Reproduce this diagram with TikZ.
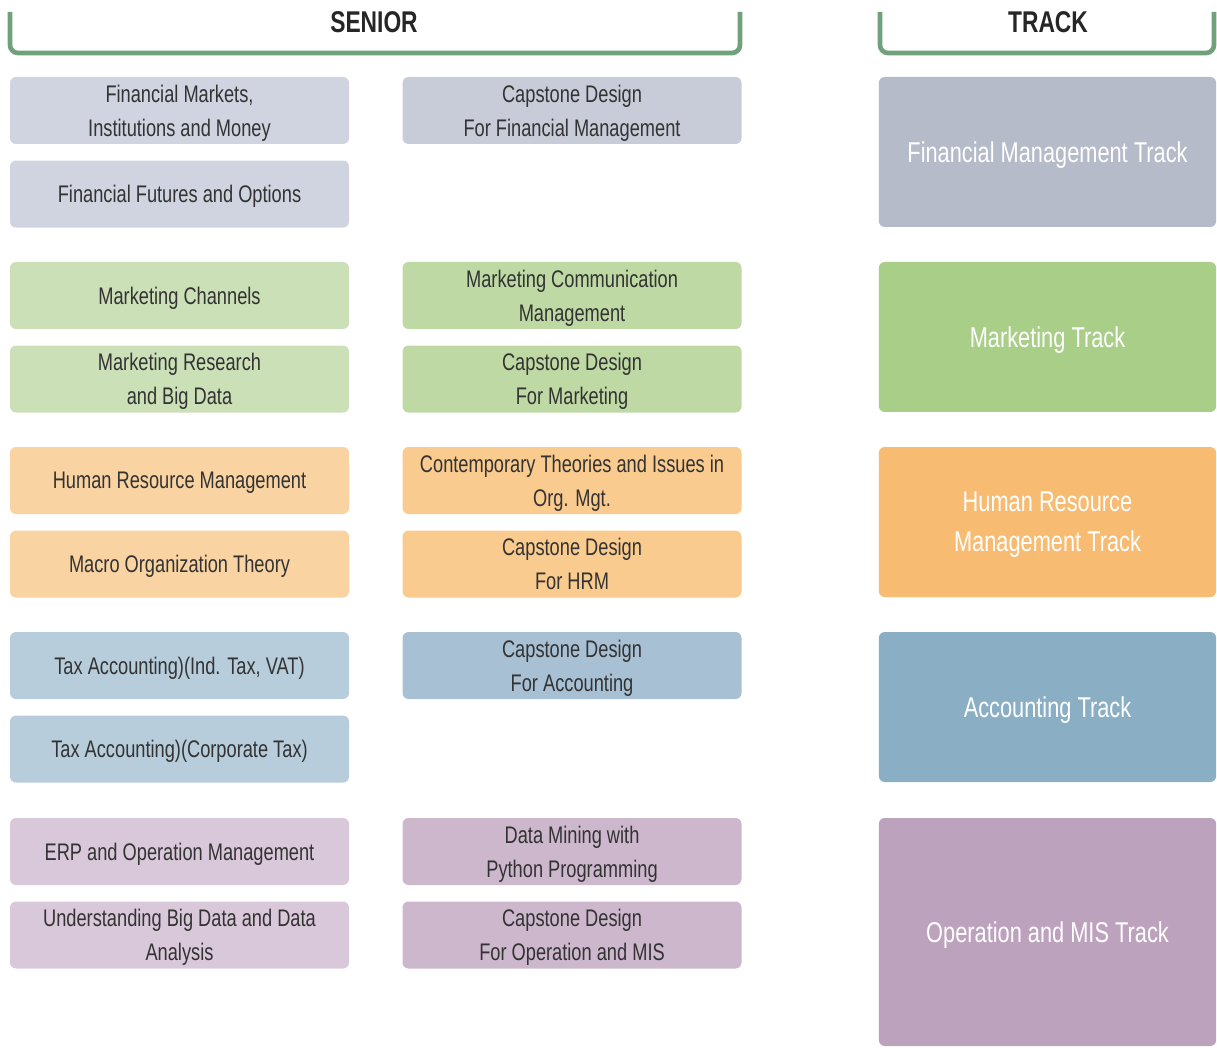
\documentclass[tikz,border=0pt]{standalone}
\usepackage{fontspec}
\setmainfont{Liberation Sans}[FakeStretch=0.76]
\usepackage{tikz}
\usetikzlibrary{positioning}
\usepackage{xcolor}

\definecolor{bracketgreen}{HTML}{6FA27A}
\definecolor{textgray}{HTML}{333333}
\definecolor{finA}{HTML}{D0D4E0}
\definecolor{finB}{HTML}{C8CCD8}
\definecolor{finT}{HTML}{B5BBC8}
\definecolor{mktA}{HTML}{CCE0B7}
\definecolor{mktB}{HTML}{BED9A4}
\definecolor{mktT}{HTML}{A9CE88}
\definecolor{hrmA}{HTML}{F9D4A2}
\definecolor{hrmB}{HTML}{F9CB8F}
\definecolor{hrmT}{HTML}{F7BB72}
\definecolor{accA}{HTML}{B7CDDC}
\definecolor{accB}{HTML}{A8C0D3}
\definecolor{accT}{HTML}{8AAFC5}
\definecolor{opsA}{HTML}{D9C7DA}
\definecolor{opsB}{HTML}{CDB7CD}
\definecolor{opsT}{HTML}{BDA2BE}

\tikzset{
  course/.style={rounded corners=4.5pt, minimum width=254.25pt, minimum height=50.25pt,
    inner sep=0pt, text depth=-6pt, align=center, text=textgray,
    font=\fontsize{18}{25.5}\selectfont},
  trackbox/.style={rounded corners=4.5pt, minimum width=253pt, inner sep=0pt,
    text depth=-6pt, align=center, text=white, font=\fontsize{21.5}{30}\selectfont},
  header/.style={font=\bfseries\fontsize{22.5}{24}\selectfont, text=black!85},
  bracket/.style={draw=bracketgreen, line width=3.5pt, rounded corners=6pt}
}

\begin{document}
\begin{tikzpicture}[x=0.75pt,y=-0.75pt]
\useasboundingbox (0,0) rectangle (1217,1048);

% headers
\node [header] (senior) at (374,22) {SENIOR};
\node [header] (track) at (1048,22) {TRACK};
\draw [bracket] (10,12) |- (740,53) -- (740,12);
\draw [bracket] (880,12) |- (1214,53) -- (1214,12);

% financial management
\node [course,fill=finA] (fmim) at (179.5,110.5) {Financial Markets,\\Institutions and Money};
\node [course,fill=finA,below=12pt of fmim] (ffo) {Financial Futures and Options};
\node [course,fill=finB,right=39.75pt of fmim] (cdfm) {Capstone Design\\For Financial Management};
\node [trackbox,fill=finT,minimum height=112.5pt] (fmt) at (1047.5,152) {Financial Management Track};

% marketing
\node [course,fill=mktA] (mc) at (179.5,295.5) {Marketing Channels};
\node [course,fill=mktA,below=12pt of mc] (mrbd) {Marketing Research\\and Big Data};
\node [course,fill=mktB,right=39.75pt of mc] (mcm) {Marketing Communication\\Management};
\node [course,fill=mktB,right=39.75pt of mrbd] (cdm) {Capstone Design\\For Marketing};
\node [trackbox,fill=mktT,minimum height=112.5pt] (mt) at (1047.5,337) {Marketing Track};

% human resource
\node [course,fill=hrmA] (hrm) at (179.5,480.5) {Human Resource Management};
\node [course,fill=hrmA,below=12pt of hrm] (mot) {Macro Organization Theory};
\node [course,fill=hrmB,right=39.75pt of hrm] (ctio) {Contemporary Theories and Issues in\\Org. Mgt.};
\node [course,fill=hrmB,right=39.75pt of mot] (cdhrm) {Capstone Design\\For HRM};
\node [trackbox,fill=hrmT,minimum height=112.5pt] (hrmt) at (1047.5,522) {Human Resource\\Management Track};

% accounting
\node [course,fill=accA] (taind) at (179.5,665.5) {Tax Accounting)(Ind. Tax, VAT)};
\node [course,fill=accA,below=12pt of taind] (tacorp) {Tax Accounting)(Corporate Tax)};
\node [course,fill=accB,right=39.75pt of taind] (cda) {Capstone Design\\For Accounting};
\node [trackbox,fill=accT,minimum height=112.5pt] (at) at (1047.5,707) {Accounting Track};

% operation and mis
\node [course,fill=opsA] (erp) at (179.5,851.5) {ERP and Operation Management};
\node [course,fill=opsA,below=12pt of erp] (ubd) {Understanding Big Data and Data\\Analysis};
\node [course,fill=opsB,right=39.75pt of erp] (dmp) {Data Mining with\\Python Programming};
\node [course,fill=opsB,right=39.75pt of ubd] (cdom) {Capstone Design\\For Operation and MIS};
\node [trackbox,fill=opsT,minimum height=171pt] (omt) at (1047.5,932) {Operation and MIS Track};
\end{tikzpicture}
\end{document}
